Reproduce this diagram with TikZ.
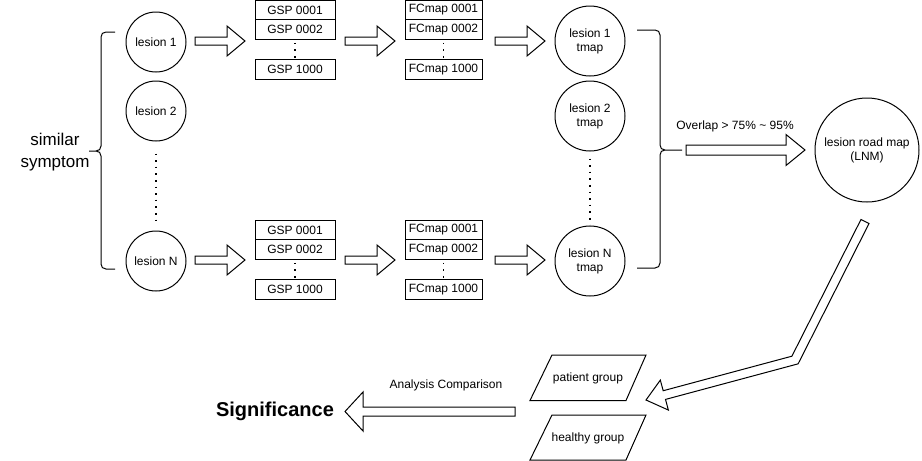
\documentclass[tikz,border=0pt]{standalone}
\usepackage{fontspec}
\setmainfont{Liberation Sans}
\usetikzlibrary{calc}
\tikzset{
  base/.style={font=\fontsize{12}{14}\selectfont, line width=1pt},
  circ/.style={base, circle, draw, inner sep=0pt, align=center},
  lcirc/.style={circ, minimum size=60pt},
  tcirc/.style={circ, minimum size=70pt},
  bigcirc/.style={circ, minimum size=104pt},
  cell/.style={base, draw, inner sep=0pt, minimum height=19.5pt},
  gsp/.style={cell, minimum width=80pt},
  fcm/.style={cell, minimum width=77pt},
  dotline/.style={line width=1.6pt, dash pattern=on 1.6pt off 5pt},
  barrow/.style={draw, fill=white, line width=1pt, line join=miter},
  brace/.style={line width=1pt},
  lbl/.style={font=\fontsize{12}{14}\selectfont, inner sep=0pt},
  para/.style={draw, line width=1pt},
}
% block arrow: #1 tail, #2 tip, #3 shaft half width, #4 head half width, #5 head length
\newcommand{\blockarr}[5]{%
  \coordinate (bah) at ($(#2)!#5!(#1)$);
  \draw[barrow] ($(#1)!#3!90:(#2)$) -- ($(bah)!#3!90:(#2)$) -- ($(bah)!#4!90:(#2)$) -- (#2)
    -- ($(bah)!#4!-90:(#2)$) -- ($(bah)!#3!-90:(#2)$) -- ($(#1)!#3!-90:(#2)$) -- cycle;}
\begin{document}
\begin{tikzpicture}[x=1pt, y=-1pt]
\useasboundingbox (0,0) rectangle (922,461);
\fill[white] (0,0) rectangle (922,461);

% left brace and label
\draw[brace] (115,32) -- (106,32) .. controls (103,32) and (101,34) .. (101,37) -- (101,146)
  .. controls (101,149) and (99,151) .. (96,151) -- (89,151) -- (96,151)
  .. controls (99,151) and (101,153) .. (101,156) -- (101,264)
  .. controls (101,267) and (103,269) .. (106,269) -- (115,269);
\node[font=\fontsize{17}{22}\selectfont, align=center, inner sep=0pt] (sym) at (55,152) {similar\\symptom};

% lesions
\node[lcirc] (l1) at (156,42) {lesion 1};
\node[lcirc] (l2) at (156,111) {lesion 2};
\node[lcirc] (lN) at (156,261) {lesion N};
\draw[dotline, shorten <=12pt, shorten >=10pt] (l2.south) -- (lN.north);

% GSP boxes
\node[gsp] (ga1) at (295,10) {GSP 0001};
\node[gsp] (ga2) at (295,29.5) {GSP 0002};
\node[gsp] (ga3) at (295,69.5) {GSP 1000};
\draw[dotline, shorten <=3pt, shorten >=1pt] (ga2.south) -- (ga3.north);
\node[gsp] (gb1) at (295,230) {GSP 0001};
\node[gsp] (gb2) at (295,249.5) {GSP 0002};
\node[gsp] (gb3) at (295,289.5) {GSP 1000};
\draw[dotline, shorten <=3pt, shorten >=1pt] (gb2.south) -- (gb3.north);

% FCmap boxes
\node[fcm] (fa1) at (443.5,10) {FCmap 0001};
\node[fcm] (fa2) at (443.5,29.5) {FCmap 0002};
\node[fcm] (fa3) at (443.5,69.5) {FCmap 1000};
\draw[dotline, shorten <=3pt, shorten >=1pt] (fa2.south) -- (fa3.north);
\node[fcm] (fb1) at (443.5,230) {FCmap 0001};
\node[fcm] (fb2) at (443.5,249.5) {FCmap 0002};
\node[fcm] (fb3) at (443.5,289.5) {FCmap 1000};
\draw[dotline, shorten <=3pt, shorten >=1pt] (fb2.south) -- (fb3.north);

% tmaps
\node[tcirc] (t1) at (590,41) {lesion 1\\tmap};
\node[tcirc] (t2) at (590,116) {lesion 2\\tmap};
\node[tcirc] (tN) at (590,261) {lesion N\\tmap};
\draw[dotline, shorten <=7pt, shorten >=1pt] (t2.south) -- (tN.north);

% right brace
\draw[brace] (637,30) -- (655,30) .. controls (658,30) and (660,32) .. (660,35) -- (660,145)
  .. controls (660,148) and (662,150) .. (665,150) -- (682,150) -- (665,150)
  .. controls (662,150) and (660,152) .. (660,155) -- (660,263)
  .. controls (660,266) and (658,268) .. (655,268) -- (637,268);

% LNM
\node[bigcirc] (lnm) at (867,150) {lesion road map\\(LNM)};
\node[lbl] (ov) at (735,126) {Overlap > 75\% \~{} 95\%};

% horizontal block arrows
\coordinate (a1s) at (195,41);  \coordinate (a1e) at (245,41);
\coordinate (a2s) at (345,41);  \coordinate (a2e) at (395,41);
\coordinate (a3s) at (495,41);  \coordinate (a3e) at (545,41);
\coordinate (b1s) at (195,260); \coordinate (b1e) at (245,260);
\coordinate (b2s) at (345,260); \coordinate (b2e) at (395,260);
\coordinate (b3s) at (495,260); \coordinate (b3e) at (545,260);
\blockarr{a1s}{a1e}{4pt}{15pt}{18pt}
\blockarr{a2s}{a2e}{4pt}{15pt}{18pt}
\blockarr{a3s}{a3e}{4pt}{15pt}{18pt}
\blockarr{b1s}{b1e}{4pt}{15pt}{18pt}
\blockarr{b2s}{b2e}{4pt}{15pt}{18pt}
\blockarr{b3s}{b3e}{4pt}{15pt}{18pt}
\coordinate (ovs) at (686,150); \coordinate (ove) at (805,150);
\blockarr{ovs}{ove}{5pt}{15.5pt}{19pt}

% bent arrow from LNM to groups
\coordinate (p0) at (865,221.5);
\coordinate (p1) at (795,360);
\coordinate (pt) at (646,400);
\coordinate (ph) at ($(pt)!19pt!(p1)$);
\coordinate (s0a) at ($(p0)!4.5pt!90:(p1)$);
\coordinate (s0b) at ($(p0)!4.5pt!-90:(p1)$);
\coordinate (s1a) at ($(p1)!4.5pt!-90:(p0)$);
\coordinate (s1b) at ($(p1)!4.5pt!90:(p0)$);
\coordinate (s2a) at ($(p1)!4.5pt!90:(pt)$);
\coordinate (s2b) at ($(p1)!4.5pt!-90:(pt)$);
\coordinate (h1a) at ($(ph)!4.5pt!90:(pt)$);
\coordinate (h1b) at ($(ph)!4.5pt!-90:(pt)$);
\coordinate (h2a) at ($(ph)!15.5pt!90:(pt)$);
\coordinate (h2b) at ($(ph)!15.5pt!-90:(pt)$);
\coordinate (ja) at (intersection of s0a--s1a and s2a--h1a);
\coordinate (jb) at (intersection of s0b--s1b and s2b--h1b);
\draw[barrow] (s0a) -- (ja) -- (h1a) -- (h2a) -- (pt) -- (h2b) -- (h1b) -- (jb) -- (s0b) -- cycle;

% groups
\node[lbl] (pg) at (588,378) {patient group};
\node[lbl] (hg) at (588,438) {healthy group};
\draw[para] (530,400.5) -- (626,400.5) -- (646,355) -- (552,355) -- cycle;
\draw[para] (530,460) -- (626,460) -- (646,415) -- (552,415) -- cycle;

% analysis arrow
\coordinate (cs) at (515,411.5); \coordinate (ce) at (345,411.5);
\blockarr{cs}{ce}{4.5pt}{19.5pt}{18pt}
\node[lbl] (ac) at (446,385) {Analysis Comparison};
\node[font=\fontsize{20}{24}\selectfont\bfseries, inner sep=0pt] (sig) at (275,411) {Significance};
\end{tikzpicture}
\end{document}
